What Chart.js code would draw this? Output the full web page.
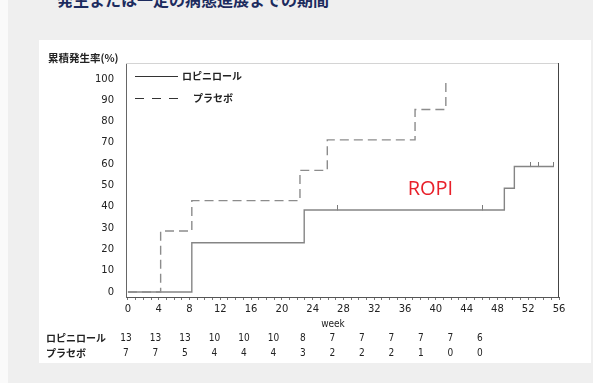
<!DOCTYPE html>
<html>
<head>
<meta charset="utf-8">
<script src="https://cdn.jsdelivr.net/npm/chart.js@4/dist/chart.umd.min.js"></script>
<style>
  html, body { margin: 0; padding: 0; }
  body { width: 593px; height: 383px; background: #efefef; position: relative; overflow: hidden; }
  #edge { position: absolute; left: 0; top: 0; width: 8px; height: 383px; background: #fafafa; }
  #panel { position: absolute; left: 39px; top: 40px; width: 552px; height: 323px; background: #ffffff; }
  #heading { position: absolute; left: 57px; top: -9px; font: bold 16px/16px "Noto Sans CJK JP", sans-serif; color: #1c2b5e; white-space: nowrap; }
  #wrap { position: absolute; left: 0; top: 0; width: 593px; height: 383px; }
</style>
</head>
<body>
<div id="edge"></div>
<div id="panel"></div>
<div id="heading">発生または一定の病態進展までの期間</div>
<div id="wrap"><canvas id="km" width="593" height="383"></canvas></div>
<script>
// Kaplan–Meier cumulative incidence (%) by week
const ropiTimes = [0, 8.3, 22.9, 48.9, 50.2, 55.3];
const ropiRates = [0, 23.1, 38.5, 48.7, 58.9, 58.9];
const ropiCensorTimes = [27.2, 46.1, 52.3, 53.3, 55.3];

const placeboTimes = [0, 4.25, 8.3, 22.35, 25.9, 37.3, 41.3];
const placeboRates = [0, 28.6, 42.9, 57.1, 71.4, 85.7, 100];

// number at risk table
const riskWeeks = [0, 4, 8, 12, 16, 20, 24, 28, 32, 36, 40, 44, 48];
const ropiAtRisk = [13, 13, 13, 10, 10, 10, 8, 7, 7, 7, 7, 7, 6];
const placeboAtRisk = [7, 7, 5, 4, 4, 4, 3, 2, 2, 2, 1, 0, 0];

const groupNames = ['ロピニロール', 'プラセボ'];
const yTicks = [0, 10, 20, 30, 40, 50, 60, 70, 80, 90, 100];
const xTickLabels = [0, 4, 8, 12, 16, 20, 24, 28, 32, 36, 40, 44, 48, 52, 56];
const xTitle = 'week';
const yTitle = '累積発生率(%)';
const noteText = 'ROPI';

const NUM_FAMILY = '"DejaVu Sans", sans-serif';
const JP_FONT = '"Noto Sans CJK JP", sans-serif';

function stepValue(times, rates, t) {
  let v = rates[0];
  for (let i = 0; i < times.length; i++) if (times[i] <= t) v = rates[i];
  return v;
}

const ropiPoints = ropiTimes.map((t, i) => ({ x: t, y: ropiRates[i] }));
const placeboPoints = placeboTimes.map((t, i) => ({ x: t, y: placeboRates[i] }));
const censorPoints = ropiCensorTimes.map(t => ({ x: t, y: stepValue(ropiTimes, ropiRates, t) }));

// censor mark: short upward tick sitting on the curve
const censorMark = document.createElement('canvas');
censorMark.width = 1; censorMark.height = 9;
(function () {
  const c = censorMark.getContext('2d');
  c.fillStyle = '#7a7a7a';
  c.fillRect(0, 0, 1, 5);
})();

const decor = {
  id: 'decor',
  afterDraw(chart) {
    const ctx = chart.ctx;
    const a = chart.chartArea;
    const xs = chart.scales.x, ys = chart.scales.y;
    ctx.save();
    // top and right frame
    ctx.lineWidth = 1;
    ctx.strokeStyle = '#d4d4d4';
    ctx.beginPath(); ctx.moveTo(a.left, a.top + 0.5); ctx.lineTo(a.right, a.top + 0.5); ctx.stroke();
    ctx.strokeStyle = '#444';
    ctx.beginPath(); ctx.moveTo(a.right - 0.5, a.top); ctx.lineTo(a.right - 0.5, a.bottom); ctx.stroke();

    // legend
    const lx0 = a.left + 9, lx1 = a.left + 52;
    ctx.strokeStyle = '#333';
    ctx.lineWidth = 1;
    ctx.beginPath(); ctx.moveTo(lx0, 76.5); ctx.lineTo(lx1, 76.5); ctx.stroke();
    ctx.setLineDash([9, 8]);
    ctx.beginPath(); ctx.moveTo(lx0, 98.5); ctx.lineTo(lx1 + 1, 98.5); ctx.stroke();
    ctx.setLineDash([]);
    ctx.fillStyle = '#222';
    ctx.font = 'bold 10px ' + JP_FONT;
    ctx.textBaseline = 'middle';
    ctx.textAlign = 'left';
    ctx.fillText(groupNames[0], 182, 76);
    ctx.fillText(groupNames[1], 193, 98);

    // y title
    ctx.font = 'bold 10.5px ' + JP_FONT;
    ctx.fillText(yTitle, 48, 58);

    // x title
    ctx.font = 'condensed 10px ' + NUM_FAMILY;
    ctx.textAlign = 'center';
    ctx.fillText(xTitle, 333, 324);

    // at-risk table
    ctx.font = 'bold 10px ' + JP_FONT;
    ctx.textAlign = 'left';
    ctx.fillText(groupNames[0], 46, 338);
    ctx.fillText(groupNames[1], 46, 353);
    ctx.font = 'condensed 10px ' + NUM_FAMILY;
    ctx.textAlign = 'center';
    const col0 = xs.getPixelForValue(riskWeeks[0]) - 2;
    const colW = 29.5;
    riskWeeks.forEach((w, i) => {
      const x = col0 + i * colW;
      ctx.fillText(String(ropiAtRisk[i]), x, 338);
      ctx.fillText(String(placeboAtRisk[i]), x, 353);
    });

    // annotation
    ctx.fillStyle = '#e8202a';
    ctx.font = '20px "Open Sans", sans-serif';
    ctx.fillText(noteText, xs.getPixelForValue(39.3), ys.getPixelForValue(48));
    ctx.restore();
  }
};

new Chart(document.getElementById('km'), {
  type: 'line',
  data: {
    datasets: [
      {
        label: groupNames[1],
        data: placeboPoints,
        stepped: 'before',
        borderColor: '#8c8c8c',
        borderWidth: 1.4,
        borderDash: [9, 5],
        pointRadius: 0,
        fill: false
      },
      {
        label: groupNames[0],
        data: ropiPoints,
        stepped: 'before',
        borderColor: '#858585',
        borderWidth: 1.4,
        pointRadius: 0,
        fill: false
      },
      {
        type: 'scatter',
        label: 'censor',
        data: censorPoints,
        showLine: false,
        pointStyle: censorMark,
        radius: 4
      }
    ]
  },
  options: {
    responsive: false,
    animation: false,
    devicePixelRatio: 1,
    layout: { padding: { left: 86, right: 34, top: 63, bottom: 0 } },
    plugins: { legend: { display: false }, tooltip: { enabled: false } },
    scales: {
      x: {
        type: 'linear',
        min: -0.25,
        max: 56,
        afterBuildTicks(scale) {
          const t = [];
          for (let w = 0; w <= 56; w++) t.push({ value: w });
          scale.ticks = t;
        },
        afterFit(scale) { scale.height = 86; },
        ticks: {
          autoSkip: false,
          maxRotation: 0,
          padding: 3,
          color: '#222',
          font: { family: NUM_FAMILY, size: 10, style: 'condensed' },
          callback: v => (xTickLabels.includes(v) ? String(v) : '')
        },
        grid: { drawOnChartArea: false, drawTicks: true, tickLength: 3, color: '#777', lineWidth: 1 },
        border: { display: true, color: '#555', width: 1 }
      },
      y: {
        type: 'linear',
        min: -2.35,
        max: 107.5,
        afterBuildTicks(scale) { scale.ticks = yTicks.map(v => ({ value: v })); },
        afterFit(scale) { scale.width = 40; },
        ticks: {
          padding: 4,
          color: '#222',
          font: { family: NUM_FAMILY, size: 10, style: 'condensed' }
        },
        grid: { display: false },
        border: { display: true, color: '#666', width: 1 }
      }
    }
  },
  plugins: [decor]
});
</script>
</body>
</html>
